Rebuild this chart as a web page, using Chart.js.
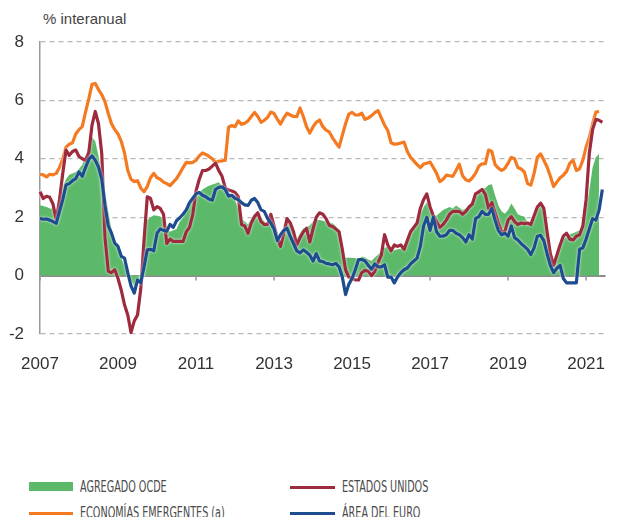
<!DOCTYPE html>
<html>
<head>
<meta charset="utf-8">
<script src="https://cdn.jsdelivr.net/npm/chart.js@4.4.0/dist/chart.umd.min.js"></script>
<style>
  body { margin: 0; background: #fff; width: 617px; height: 517px; overflow: hidden; position: relative;
         font-family: 'Liberation Sans', Arial, sans-serif; color: #333; }
  #unit { position: absolute; left: 43px; top: 10px; font-size: 15px; color: #444; }
  canvas { position: absolute; left: 0; top: 0; }
  .lg { position: absolute; font-family: 'Liberation Sans Narrow', 'DejaVu Sans Condensed', sans-serif;
        font-size: 16px; line-height: 16px; color: #4a4a4a; white-space: nowrap; transform-origin: 0 50%; }
  .sw { position: absolute; }
</style>
</head>
<body>
<div id="unit">% interanual</div>
<canvas id="chart" width="617" height="370"></canvas>
<div id="legend"></div>
<script>
// monthly, Jan 2007 .. mid 2021 (one line per year)
const oecd = [
  2.41, 2.38, 2.35, 2.3, 2.28, 2.1, 2.5, 3.05, 3.3, 3.45, 3.5, 3.55,
  3.65, 3.8, 4.1, 4.4, 4.75, 4.6, 4.1, 3.5, 2.9, 2.2, 1.6, 1.2,
  0.9, 0.6, 0.35, 0.1, -0.15, -0.38, -0.3, 0.0, 1.5, 1.9, 2.0, 2.07,
  2.05, 2.02, 1.9, 1.6, 1.5, 1.55, 1.6, 1.85, 2.0, 2.2, 2.45, 2.6,
  2.72, 2.85, 2.95, 3.02, 3.08, 3.12, 3.15, 3.2, 3.08, 2.95, 2.85, 2.78,
  2.6, 2.3, 1.95, 1.85, 1.75, 1.96, 2.13, 2.1, 2.0, 1.85, 1.79, 1.85,
  1.7, 1.45, 1.22, 1.55, 1.85, 1.7, 1.45, 1.25, 1.45, 1.62, 1.65, 1.72,
  1.85, 1.9, 1.9, 1.88, 1.85, 1.82, 1.79, 1.7, 1.45, 0.85, 0.6, 0.62,
  0.6, 0.6, 0.55, 0.65, 0.62, 0.55, 0.5, 0.62, 0.71, 0.85, 0.95, 1.0,
  0.9, 0.88, 0.9, 0.92, 1.05, 1.2, 1.45, 1.68, 1.85, 2.1, 2.35, 2.5,
  2.45, 2.1, 2.05, 2.15, 2.25, 2.3, 2.35, 2.3, 2.4, 2.32, 2.25, 2.3,
  2.4, 2.5, 2.65, 2.85, 2.95, 3.0, 3.1, 3.13, 2.75, 2.4, 2.2, 2.12,
  2.25, 2.47, 2.3, 2.1, 2.05, 2.02, 1.82, 1.8, 1.9, 2.2, 2.55, 2.3,
  1.8, 0.8, 0.45, 0.85, 1.1, 1.25, 1.35, 1.42, 1.45, 1.5, 1.55, 1.7,
  2.3, 2.95, 3.7, 4.05, 4.17
];
const emergentes = [
  3.47, 3.45, 3.38, 3.47, 3.45, 3.5, 3.7, 4.0, 4.4, 4.5, 4.55, 4.85,
  5.0, 5.1, 5.6, 6.05, 6.55, 6.58, 6.37, 6.2, 5.95, 5.55, 5.2, 5.0,
  4.85, 4.6, 4.2, 3.6, 3.3, 3.22, 3.25, 3.0, 2.87, 3.05, 3.35, 3.5,
  3.35, 3.3, 3.2, 3.15, 3.08, 3.2, 3.32, 3.5, 3.7, 3.88, 3.86, 3.88,
  3.95, 4.1, 4.2, 4.15, 4.08, 4.0, 3.88, 3.92, 3.93, 3.95, 5.08, 5.14,
  5.1, 5.3, 5.18, 5.22, 5.3, 5.45, 5.59, 5.45, 5.25, 5.32, 5.42, 5.6,
  5.55, 5.36, 5.19, 5.4, 5.56, 5.5, 5.45, 5.44, 5.74, 5.45, 5.1, 4.88,
  5.1, 5.25, 5.33, 5.1, 4.98, 4.92, 4.72, 4.55, 4.4, 4.8, 5.2, 5.53,
  5.59, 5.5, 5.5, 5.56, 5.35, 5.4, 5.48, 5.58, 5.65, 5.4, 5.15, 4.97,
  4.55, 4.5, 4.51, 4.54, 4.57, 4.25, 4.05, 3.93, 3.8, 3.7, 3.82, 3.85,
  3.89, 3.7, 3.5, 3.22, 3.3, 3.44, 3.42, 3.4, 3.6, 3.82, 3.42, 3.28,
  3.24, 3.35, 3.5, 3.75, 3.83, 3.83, 4.3, 4.25, 3.8, 3.68, 3.6, 3.67,
  3.85, 4.05, 4.0, 3.7, 3.65, 3.55, 3.15, 3.1, 3.5, 4.05, 4.17, 3.95,
  3.72, 3.4, 3.05, 3.2, 3.35, 3.44, 3.57, 3.85, 3.95, 3.6, 3.66, 3.95,
  4.4, 4.74, 5.2, 5.6, 5.62
];
const eeuu = [
  2.87, 2.64, 2.72, 2.68, 2.45, 1.9, 2.6, 3.5, 4.3, 4.12, 4.25, 4.3,
  4.08, 4.0, 3.95, 4.2, 5.15, 5.62, 5.2, 4.17, 1.3, 0.15, 0.1, 0.2,
  -0.1, -0.5, -1.0, -1.35, -1.95, -1.55, -1.35, -0.45, 1.2, 2.7, 2.64, 2.25,
  2.36, 2.3, 2.1, 1.1, 1.25, 1.17, 1.17, 1.17, 1.17, 1.5, 1.65, 2.1,
  2.9, 3.3, 3.6, 3.6, 3.65, 3.75, 3.85, 3.6, 3.4, 3.0, 2.93, 2.9,
  2.85, 2.7, 1.75, 1.7, 1.45, 1.8, 2.02, 2.15, 1.85, 1.75, 1.75, 2.1,
  1.7, 1.3, 1.0, 1.45, 1.95, 1.8, 1.5, 1.05, 1.3, 1.5, 1.62, 1.15,
  1.6, 2.0, 2.15, 2.1, 1.95, 1.72, 1.68, 1.6, 1.5, 0.9, 0.2, -0.05,
  -0.08, -0.15, -0.15, 0.1, 0.18, 0.15, 0.0, 0.15, 0.45, 0.7, 1.4, 1.05,
  0.85, 1.05, 1.0, 1.05, 0.9, 1.2, 1.5, 1.65, 1.8, 2.3, 2.6, 2.8,
  2.35, 2.05, 1.85, 1.65, 1.75, 1.9, 2.1, 2.2, 2.2, 2.2, 2.1, 2.2,
  2.35, 2.45, 2.8, 2.87, 2.95, 2.78, 2.3, 2.5, 2.15, 1.8, 1.5, 1.5,
  1.9, 2.02, 1.85, 1.75, 1.8, 1.78, 1.8, 1.75, 2.05, 2.35, 2.48, 2.3,
  1.5, 0.75, 0.35, 0.7, 1.05, 1.35, 1.45, 1.25, 1.22, 1.35, 1.4, 1.7,
  2.6, 4.2, 5.0, 5.35, 5.32, 5.25
];
const euro = [
  1.96, 1.93, 1.94, 1.9, 1.85, 1.79, 2.2, 2.6, 3.1, 3.15, 3.25, 3.32,
  3.55, 3.4, 3.7, 3.98, 4.1, 3.95, 3.72, 3.3, 2.4, 1.7, 1.45, 1.11,
  1.0, 0.66, 0.6, 0.1, -0.35, -0.6, -0.15, -0.25, 0.3, 0.88, 0.9, 0.85,
  1.45, 1.6, 1.55, 1.52, 1.75, 1.65, 1.88, 1.98, 2.1, 2.25, 2.5, 2.65,
  2.8, 2.85, 2.75, 2.7, 2.62, 2.58, 2.95, 3.02, 3.04, 2.95, 2.72, 2.75,
  2.65, 2.6, 2.5, 2.42, 2.4, 2.58, 2.64, 2.5, 2.25, 2.2, 1.96, 1.8,
  1.6, 1.2, 1.4, 1.55, 1.62, 1.34, 1.1, 0.85, 0.78, 0.88, 0.8, 0.7,
  0.5, 0.75, 0.5, 0.48, 0.42, 0.4, 0.37, 0.42, 0.3, -0.05, -0.65, -0.3,
  -0.1, 0.2, 0.55, 0.55, 0.5, 0.35, 0.22, 0.4, 0.3, 0.3, 0.37, -0.05,
  -0.05, -0.25, -0.05, 0.1, 0.2, 0.26, 0.4, 0.5, 0.6, 1.0, 1.7, 2.0,
  1.55, 2.0, 1.5, 1.35, 1.35, 1.4, 1.55, 1.55, 1.45, 1.4, 1.3, 1.15,
  1.4, 1.25, 1.95, 2.02, 2.2, 2.1, 2.1, 2.3, 1.9, 1.55, 1.4, 1.45,
  1.35, 1.7, 1.3, 1.22, 1.1, 1.0, 0.9, 0.72, 0.95, 1.35, 1.38, 1.2,
  0.75, 0.35, 0.1, 0.25, 0.35, -0.1, -0.25, -0.25, -0.25, -0.25, 0.9, 0.95,
  1.25, 1.6, 1.95, 1.9, 2.25, 2.95
];

const yearTicks = ['2007', '2009', '2011', '2013', '2015', '2017', '2019', '2021'];
const seriesNames = ['AGREGADO OCDE', 'ECONOMÍAS EMERGENTES (a)', 'ESTADOS UNIDOS', 'ÁREA DEL EURO'];
const seriesColors = ['#5cb96a', '#f47a22', '#9e2a3e', '#1d4c8f'];

// month categories, Jan 2007 .. Jul 2021
const labels = [];
for (let y = 2007; y <= 2021; y++) {
    for (let m = 1; m <= 12; m++) labels.push(y + '-' + String(m).padStart(2, '0'));
}
labels.length = 175;

const FONT = "'Liberation Sans', Arial, sans-serif";

// small tick marks hanging from the zero line
const zeroTicks = {
    id: 'zeroTicks',
    beforeDatasetsDraw(chart) {
        const { ctx, scales: { x, y } } = chart;
        const y0 = y.getPixelForValue(0);
        ctx.save();
        ctx.strokeStyle = '#999';
        ctx.lineWidth = 1.5;
        x.ticks.forEach((t, i) => {
            if (!t.label) return;
            const px = x.getPixelForTick(i);
            ctx.beginPath();
            ctx.moveTo(px, y0);
            ctx.lineTo(px, y0 + 5);
            ctx.stroke();
        });
        ctx.restore();
    }
};

// thin white halo round the lines, as in the original
const halo = {
    id: 'halo',
    beforeDatasetDraw(chart, args) {
        if (args.index === 0) return;
        chart.ctx.save();
        chart.ctx.shadowColor = 'rgba(255,255,255,0.95)';
        chart.ctx.shadowBlur = 2.5;
    },
    afterDatasetDraw(chart, args) {
        if (args.index === 0) return;
        chart.ctx.restore();
    }
};

new Chart(document.getElementById('chart'), {
    type: 'line',
    data: {
        labels: labels,
        datasets: [
            { label: seriesNames[0], data: oecd, fill: 'origin', backgroundColor: seriesColors[0],
              borderWidth: 0, pointRadius: 0, order: 4 },
            { label: seriesNames[1], data: emergentes, borderColor: seriesColors[1], borderWidth: 3.2,
              pointRadius: 0, fill: false, order: 3 },
            { label: seriesNames[2], data: eeuu, borderColor: seriesColors[2], borderWidth: 3.2,
              pointRadius: 0, fill: false, order: 2 },
            { label: seriesNames[3], data: euro, borderColor: seriesColors[3], borderWidth: 3.2,
              pointRadius: 0, fill: false, order: 1 }
        ]
    },
    options: {
        responsive: false,
        animation: false,
        layout: { padding: { top: 42, right: 0, left: 0, bottom: 0 } },
        plugins: { legend: { display: false }, tooltip: { enabled: false } },
        elements: { line: { tension: 0, borderJoinStyle: 'round' } },
        scales: {
            x: {
                type: 'category',
                offset: false,
                afterFit(s) { s.height = 36; },
                grid: { display: false },
                border: { display: false },
                ticks: {
                    autoSkip: false, maxRotation: 0, padding: 12, color: '#333',
                    font: { size: 17, family: FONT },
                    callback(val) {
                        const l = labels[val];
                        return l.endsWith('-01') && yearTicks.includes(l.slice(0, 4)) ? l.slice(0, 4) : null;
                    }
                }
            },
            y: {
                min: -2, max: 8,
                afterFit(s) { s.width = 40; },
                ticks: { stepSize: 2, padding: 16, color: '#333', font: { size: 17, family: FONT } },
                grid: {
                    drawTicks: false,
                    color: c => c.tick && c.tick.value === 0 ? '#8c8c8c' : '#b8b8b8',
                    lineWidth: c => c.tick && c.tick.value === 0 ? 2 : 1.2
                },
                border: {
                    display: true, color: '#9a9a9a', width: 1.5,
                    dash: c => (c.type === 'tick' && c.tick.value !== 0) ? [5, 4] : []
                }
            }
        }
    },
    plugins: [zeroTicks, halo]
});

// legend: two columns, two rows
const legend = document.getElementById('legend');
const legendOrder = [0, 2, 1, 3];
legendOrder.forEach((s, i) => {
    const col = i % 2, row = Math.floor(i / 2);
    const x = col === 0 ? 28.5 : 290;
    const cy = row === 0 ? 487 : 513;
    const sw = document.createElement('div');
    sw.className = 'sw';
    sw.style.left = x + 'px';
    sw.style.width = '44.5px';
    sw.style.background = seriesColors[s];
    if (s === 0) { sw.style.top = (cy - 5) + 'px'; sw.style.height = '9px'; }
    else { sw.style.top = (cy - 1.5) + 'px'; sw.style.height = '3.5px'; }
    legend.appendChild(sw);
    const tx = document.createElement('div');
    tx.className = 'lg';
    tx.textContent = seriesNames[s];
    tx.style.left = (x + 51.5) + 'px';
    tx.style.top = (row === 0 ? 478.8 : 504.9) + 'px';
    tx.style.transform = 'scaleX(0.67)';
    legend.appendChild(tx);
});
</script>
</body>
</html>
